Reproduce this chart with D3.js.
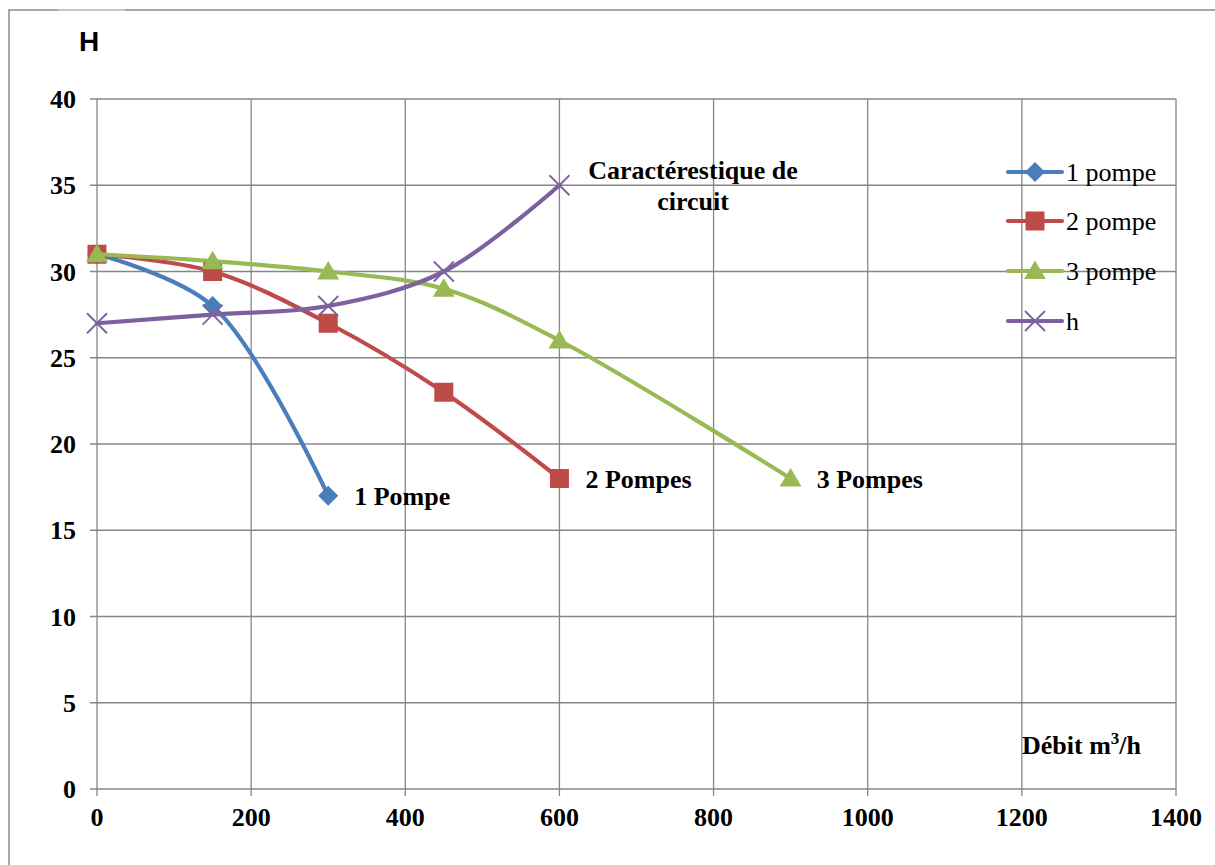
<!DOCTYPE html>
<html><head><meta charset="utf-8">
<script src="https://cdn.jsdelivr.net/npm/d3@7"></script>
<style>body{margin:0;background:#fff}svg{display:block}</style>
</head><body>
<svg id="c" width="1215" height="865"></svg>
<script>
const xTicks = [0,200,400,600,800,1000,1200,1400];
const yTicks = [0,5,10,15,20,25,30,35,40];
const pompe1X = [0,150,300], pompe1Y = [31,28,17];
const pompe2X = [0,150,300,450,600], pompe2Y = [31,30,27,23,18];
const pompe3X = [0,150,300,450,600,900], pompe3Y = [31,30.6,30,29,26,18];
const hX = [0,150,300,450,600], hY = [27,27.5,28,30,35];
const seriesNames = ["1 pompe","2 pompe","3 pompe","h"];
const colors = ["#4A7EBB","#BE4B48","#98B954","#7D60A0"];
const markers = ["diamond","square","triangle","cross"];
const notes = [["1 Pompe",300,17],["2 Pompes",600,18],["3 Pompes",900,18]];

const svg = d3.select("#c");
const x = d3.scaleLinear().domain([0,1400]).range([97,1176]);
const y = d3.scaleLinear().domain([0,40]).range([789,99]);

// outer border
svg.append("path").attr("d","M9,865 V10 H1215").attr("fill","none").attr("stroke","#8c8c8c").attr("stroke-width",1.5);
svg.append("line").attr("x1",58).attr("x2",125).attr("y1",10).attr("y2",10).attr("stroke","#d0d0d0").attr("stroke-width",1.5);

const grid = svg.append("g").attr("stroke","#868686").attr("stroke-width",1.3);
xTicks.forEach(t=>{ grid.append("line").attr("x1",x(t)).attr("x2",x(t)).attr("y1",y(40)).attr("y2",y(0)+7); });
yTicks.forEach(t=>{ grid.append("line").attr("x1",x(0)-7).attr("x2",x(1400)).attr("y1",y(t)).attr("y2",y(t)); });

const tf = "'Liberation Serif','Times New Roman',serif";
const fs = 26;
svg.append("g").selectAll("text").data(yTicks).join("text")
  .attr("x",76).attr("y",d=>y(d)).attr("dy","0.35em").attr("text-anchor","end")
  .attr("font-family",tf).attr("font-weight","bold").attr("font-size",fs).text(d=>d);
svg.append("g").selectAll("text").data(xTicks).join("text")
  .attr("x",d=>x(d)).attr("y",826).attr("text-anchor","middle")
  .attr("font-family",tf).attr("font-weight","bold").attr("font-size",fs).text(d=>d);

svg.append("text").attr("x",79).attr("y",51).attr("font-family","'Liberation Sans',Arial,sans-serif")
  .attr("font-weight","bold").attr("font-size",28).text("H");

const dt = svg.append("text").attr("x",1022).attr("y",754).attr("font-family",tf).attr("font-weight","bold").attr("font-size",fs);
dt.append("tspan").text("Débit m");
dt.append("tspan").attr("font-size",17).attr("dy",-10).text("3");
dt.append("tspan").attr("dy",10).text("/h");

function drawMarker(g, type, cx, cy, color, s){
  if(type==="diamond"){
    g.append("path").attr("d",`M${cx},${cy-s}L${cx+s},${cy}L${cx},${cy+s}L${cx-s},${cy}Z`).attr("fill",color);
  } else if(type==="square"){
    g.append("rect").attr("x",cx-s).attr("y",cy-s).attr("width",2*s).attr("height",2*s).attr("fill",color);
  } else if(type==="triangle"){
    g.append("path").attr("d",`M${cx},${cy-s*1.1}L${cx+s*1.15},${cy+s*0.85}L${cx-s*1.15},${cy+s*0.85}Z`).attr("fill",color);
  } else {
    g.append("path").attr("d",`M${cx-s},${cy-s}L${cx+s},${cy+s}M${cx-s},${cy+s}L${cx+s},${cy-s}`).attr("stroke",color).attr("stroke-width",1.8).attr("fill","none");
  }
}
const sizes = [10,9.5,9.5,10];
const allX = [pompe1X,pompe2X,pompe3X,hX], allY=[pompe1Y,pompe2Y,pompe3Y,hY];
const line = d3.line().x(d=>x(d[0])).y(d=>y(d[1])).curve(d3.curveCatmullRom.alpha(0.5));
const order = [0,1,2,3];
order.forEach(i=>{
  const g = svg.append("g");
  const pts = allX[i].map((v,j)=>[v,allY[i][j]]);
  g.append("path").datum(pts).attr("d",line).attr("fill","none").attr("stroke",colors[i]).attr("stroke-width",4.2).attr("stroke-linecap","round");
  allX[i].forEach((v,j)=>drawMarker(g,markers[i],x(v),y(allY[i][j]),colors[i],sizes[i]));
});

// annotations
notes.forEach(n=>{
  svg.append("text").attr("x",x(n[1])+26).attr("y",y(n[2])+9).attr("font-family",tf).attr("font-weight","bold").attr("font-size",fs).text(n[0]);
});
svg.append("text").attr("x",693).attr("y",179).attr("text-anchor","middle").attr("font-family",tf).attr("font-weight","bold").attr("font-size",fs).text("Caractérestique de");
svg.append("text").attr("x",693).attr("y",210).attr("text-anchor","middle").attr("font-family",tf).attr("font-weight","bold").attr("font-size",fs).text("circuit");

// legend
const legY = [172,221,271,321];
seriesNames.forEach((nm,i)=>{
  const g = svg.append("g");
  g.append("line").attr("x1",1008).attr("x2",1062).attr("y1",legY[i]).attr("y2",legY[i]).attr("stroke",colors[i]).attr("stroke-width",4.2).attr("stroke-linecap","round");
  drawMarker(g,markers[i],1035,legY[i],colors[i],sizes[i]);
  g.append("text").attr("x",1066).attr("y",legY[i]).attr("dy","0.33em").attr("font-family",tf).attr("font-size",fs).text(nm);
});
</script>
</body></html>
